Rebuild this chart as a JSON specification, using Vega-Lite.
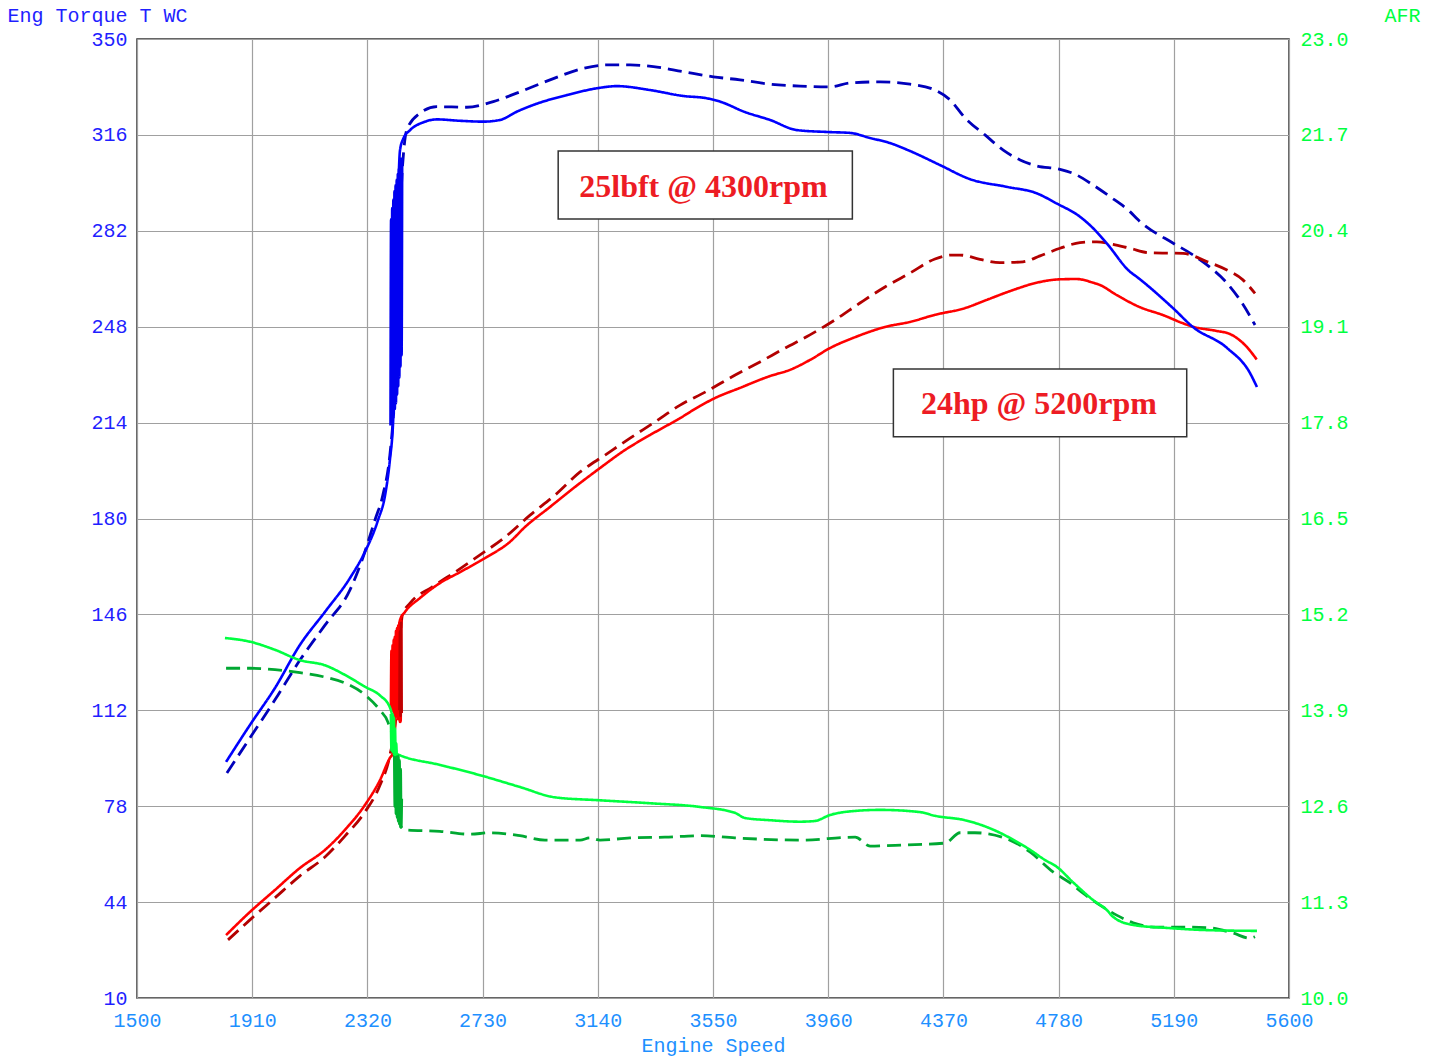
{
  "$schema": "https://vega.github.io/schema/vega-lite/v6.json",
  "width": 1152,
  "height": 959,
  "autosize": {"type": "none"},
  "padding": {"left": 137, "top": 39, "right": 146, "bottom": 59},
  "background": "white",
  "config": {
    "view": {"stroke": "#333333", "strokeWidth": 1.5},
    "axis": {
      "labelFont": "Liberation Mono",
      "labelFontSize": 20,
      "titleFont": "Liberation Mono",
      "titleFontSize": 20,
      "titleFontWeight": "normal",
      "domain": false,
      "ticks": false,
      "gridColor": "#a0a0a0",
      "gridWidth": 1.2,
      "gridOpacity": 1,
      "labelFlush": false,
      "labelOverlap": false
    }
  },
  "datasets": {
    "torque": [
      {"s": "tqd", "r": 1820, "v": 89.8}, {"s": "tqd", "r": 1902, "v": 102.2}, {"s": "tqd", "r": 1991, "v": 115.7}, {"s": "tqd", "r": 2080, "v": 129.8}, {"s": "tqd", "r": 2169, "v": 142.2}, {"s": "tqd", "r": 2258, "v": 154.7}, {"s": "tqd", "r": 2301, "v": 165.3}, {"s": "tqd", "r": 2347, "v": 179.5}, {"s": "tqd", "r": 2375, "v": 188.3}, {"s": "tqd", "r": 2400, "v": 202.5}, {"s": "tqd", "r": 2412, "v": 216}, {"s": "tqd", "r": 2445, "v": 305}, {"s": "tqd", "r": 2460, "v": 317.7}, {"s": "tqd", "r": 2507, "v": 323.7}, {"s": "tqd", "r": 2567, "v": 326.0}, {"s": "tqd", "r": 2674, "v": 325.8}, {"s": "tqd", "r": 2768, "v": 327.8}, {"s": "tqd", "r": 2851, "v": 330.8}, {"s": "tqd", "r": 2970, "v": 335.5}, {"s": "tqd", "r": 3089, "v": 339.6}, {"s": "tqd", "r": 3172, "v": 340.8}, {"s": "tqd", "r": 3255, "v": 340.8}, {"s": "tqd", "r": 3338, "v": 340.2}, {"s": "tqd", "r": 3444, "v": 338.4}, {"s": "tqd", "r": 3551, "v": 336.6}, {"s": "tqd", "r": 3646, "v": 335.5}, {"s": "tqd", "r": 3753, "v": 334.0}, {"s": "tqd", "r": 3860, "v": 333.3}, {"s": "tqd", "r": 3966, "v": 333.0}, {"s": "tqd", "r": 4038, "v": 334.4}, {"s": "tqd", "r": 4145, "v": 334.8}, {"s": "tqd", "r": 4251, "v": 334.0}, {"s": "tqd", "r": 4340, "v": 331.9}, {"s": "tqd", "r": 4394, "v": 328.4}, {"s": "tqd", "r": 4447, "v": 322.0}, {"s": "tqd", "r": 4518, "v": 316.0}, {"s": "tqd", "r": 4583, "v": 310.6}, {"s": "tqd", "r": 4643, "v": 307.1}, {"s": "tqd", "r": 4702, "v": 305.0}, {"s": "tqd", "r": 4785, "v": 303.8}, {"s": "tqd", "r": 4844, "v": 301.8}, {"s": "tqd", "r": 4903, "v": 298.2}, {"s": "tqd", "r": 4963, "v": 294.1}, {"s": "tqd", "r": 5034, "v": 288.8}, {"s": "tqd", "r": 5064, "v": 285.8}, {"s": "tqd", "r": 5188, "v": 277.6}, {"s": "tqd", "r": 5248, "v": 274.1}, {"s": "tqd", "r": 5308, "v": 269.9}, {"s": "tqd", "r": 5379, "v": 263.5}, {"s": "tqd", "r": 5433, "v": 256.4}, {"s": "tqd", "r": 5479, "v": 248.6},

      {"s": "hpd", "r": 1824, "v": 30.6}, {"s": "hpd", "r": 1902, "v": 37.7}, {"s": "hpd", "r": 1991, "v": 45.5}, {"s": "hpd", "r": 2080, "v": 53.3}, {"s": "hpd", "r": 2169, "v": 60.0}, {"s": "hpd", "r": 2240, "v": 67.4}, {"s": "hpd", "r": 2311, "v": 75.9}, {"s": "hpd", "r": 2365, "v": 85.5}, {"s": "hpd", "r": 2400, "v": 96}, {"s": "hpd", "r": 2420, "v": 108}, {"s": "hpd", "r": 2445, "v": 146}, {"s": "hpd", "r": 2472, "v": 150.0}, {"s": "hpd", "r": 2550, "v": 155.7}, {"s": "hpd", "r": 2632, "v": 161.0}, {"s": "hpd", "r": 2721, "v": 167.1}, {"s": "hpd", "r": 2810, "v": 173.4}, {"s": "hpd", "r": 2899, "v": 181.2}, {"s": "hpd", "r": 2988, "v": 188.3}, {"s": "hpd", "r": 3077, "v": 196.5}, {"s": "hpd", "r": 3166, "v": 202.5}, {"s": "hpd", "r": 3255, "v": 208.5}, {"s": "hpd", "r": 3343, "v": 214.2}, {"s": "hpd", "r": 3433, "v": 220.2}, {"s": "hpd", "r": 3522, "v": 224.8}, {"s": "hpd", "r": 3610, "v": 229.8}, {"s": "hpd", "r": 3717, "v": 235.5}, {"s": "hpd", "r": 3806, "v": 240.4}, {"s": "hpd", "r": 3895, "v": 245.1}, {"s": "hpd", "r": 3984, "v": 250.4}, {"s": "hpd", "r": 4073, "v": 256.4}, {"s": "hpd", "r": 4162, "v": 262.1}, {"s": "hpd", "r": 4251, "v": 267.0}, {"s": "hpd", "r": 4340, "v": 272.0}, {"s": "hpd", "r": 4400, "v": 273.4}, {"s": "hpd", "r": 4429, "v": 273.4}, {"s": "hpd", "r": 4500, "v": 271.9}, {"s": "hpd", "r": 4571, "v": 270.7}, {"s": "hpd", "r": 4653, "v": 271.0}, {"s": "hpd", "r": 4714, "v": 273.1}, {"s": "hpd", "r": 4785, "v": 275.8}, {"s": "hpd", "r": 4856, "v": 277.8}, {"s": "hpd", "r": 4916, "v": 278.1}, {"s": "hpd", "r": 4974, "v": 277.2}, {"s": "hpd", "r": 5034, "v": 275.8}, {"s": "hpd", "r": 5105, "v": 274.2}, {"s": "hpd", "r": 5223, "v": 274.0}, {"s": "hpd", "r": 5307, "v": 271.1}, {"s": "hpd", "r": 5379, "v": 268.1}, {"s": "hpd", "r": 5436, "v": 264.6}, {"s": "hpd", "r": 5479, "v": 259.8},

      {"s": "hp", "r": 1817, "v": 32.3}, {"s": "hp", "r": 1902, "v": 40.5}, {"s": "hp", "r": 1991, "v": 48.3}, {"s": "hp", "r": 2080, "v": 56.1}, {"s": "hp", "r": 2169, "v": 62.5}, {"s": "hp", "r": 2240, "v": 69.6}, {"s": "hp", "r": 2311, "v": 78.4}, {"s": "hp", "r": 2365, "v": 87.3}, {"s": "hp", "r": 2400, "v": 95.1}, {"s": "hp", "r": 2411, "v": 96.9}, {"s": "hp", "r": 2436, "v": 144.0}, {"s": "hp", "r": 2454, "v": 146.9}, {"s": "hp", "r": 2507, "v": 151.8}, {"s": "hp", "r": 2578, "v": 157.1}, {"s": "hp", "r": 2650, "v": 161.0}, {"s": "hp", "r": 2739, "v": 166.0}, {"s": "hp", "r": 2827, "v": 171.7}, {"s": "hp", "r": 2881, "v": 177.0}, {"s": "hp", "r": 2970, "v": 184.1}, {"s": "hp", "r": 3059, "v": 191.2}, {"s": "hp", "r": 3148, "v": 197.9}, {"s": "hp", "r": 3237, "v": 204.3}, {"s": "hp", "r": 3326, "v": 209.6}, {"s": "hp", "r": 3433, "v": 215.6}, {"s": "hp", "r": 3504, "v": 219.9}, {"s": "hp", "r": 3557, "v": 222.7}, {"s": "hp", "r": 3646, "v": 226.3}, {"s": "hp", "r": 3753, "v": 230.5}, {"s": "hp", "r": 3824, "v": 232.7}, {"s": "hp", "r": 3895, "v": 236.2}, {"s": "hp", "r": 3966, "v": 240.4}, {"s": "hp", "r": 4056, "v": 244.3}, {"s": "hp", "r": 4162, "v": 247.9}, {"s": "hp", "r": 4251, "v": 249.7}, {"s": "hp", "r": 4340, "v": 252.2}, {"s": "hp", "r": 4447, "v": 254.6}, {"s": "hp", "r": 4524, "v": 257.5}, {"s": "hp", "r": 4618, "v": 261.0}, {"s": "hp", "r": 4702, "v": 263.6}, {"s": "hp", "r": 4785, "v": 264.8}, {"s": "hp", "r": 4844, "v": 264.9}, {"s": "hp", "r": 4903, "v": 263.6}, {"s": "hp", "r": 4927, "v": 262.8}, {"s": "hp", "r": 4987, "v": 259.2}, {"s": "hp", "r": 5070, "v": 254.9}, {"s": "hp", "r": 5152, "v": 252.1}, {"s": "hp", "r": 5223, "v": 249.2}, {"s": "hp", "r": 5258, "v": 248.0}, {"s": "hp", "r": 5342, "v": 246.5}, {"s": "hp", "r": 5390, "v": 245.4}, {"s": "hp", "r": 5449, "v": 240.9}, {"s": "hp", "r": 5485, "v": 236.4},

      {"s": "tq", "r": 1817, "v": 93.7}, {"s": "tq", "r": 1902, "v": 106.8}, {"s": "tq", "r": 1991, "v": 119.9}, {"s": "tq", "r": 2080, "v": 135.2}, {"s": "tq", "r": 2169, "v": 146.9}, {"s": "tq", "r": 2258, "v": 158.9}, {"s": "tq", "r": 2311, "v": 168.1}, {"s": "tq", "r": 2358, "v": 179.5}, {"s": "tq", "r": 2383, "v": 188.3}, {"s": "tq", "r": 2400, "v": 200.7}, {"s": "tq", "r": 2411, "v": 213.2}, {"s": "tq", "r": 2436, "v": 310.5}, {"s": "tq", "r": 2447, "v": 314.5}, {"s": "tq", "r": 2472, "v": 317.7}, {"s": "tq", "r": 2520, "v": 320.5}, {"s": "tq", "r": 2567, "v": 321.5}, {"s": "tq", "r": 2650, "v": 321.0}, {"s": "tq", "r": 2732, "v": 320.7}, {"s": "tq", "r": 2792, "v": 321.3}, {"s": "tq", "r": 2851, "v": 324.2}, {"s": "tq", "r": 2910, "v": 326.6}, {"s": "tq", "r": 3029, "v": 330.1}, {"s": "tq", "r": 3148, "v": 332.7}, {"s": "tq", "r": 3207, "v": 333.3}, {"s": "tq", "r": 3326, "v": 331.9}, {"s": "tq", "r": 3444, "v": 329.8}, {"s": "tq", "r": 3527, "v": 329.0}, {"s": "tq", "r": 3575, "v": 327.8}, {"s": "tq", "r": 3664, "v": 324.1}, {"s": "tq", "r": 3753, "v": 321.3}, {"s": "tq", "r": 3849, "v": 317.7}, {"s": "tq", "r": 3966, "v": 317.0}, {"s": "tq", "r": 4038, "v": 316.7}, {"s": "tq", "r": 4109, "v": 314.9}, {"s": "tq", "r": 4180, "v": 313.1}, {"s": "tq", "r": 4251, "v": 310.3}, {"s": "tq", "r": 4358, "v": 305.3}, {"s": "tq", "r": 4465, "v": 300.3}, {"s": "tq", "r": 4595, "v": 297.6}, {"s": "tq", "r": 4702, "v": 295.3}, {"s": "tq", "r": 4773, "v": 291.7}, {"s": "tq", "r": 4856, "v": 287.0}, {"s": "tq", "r": 4903, "v": 282.9}, {"s": "tq", "r": 4951, "v": 277.6}, {"s": "tq", "r": 5034, "v": 267.5}, {"s": "tq", "r": 5058, "v": 265.7}, {"s": "tq", "r": 5187, "v": 254.6}, {"s": "tq", "r": 5258, "v": 247.9}, {"s": "tq", "r": 5379, "v": 240.5}, {"s": "tq", "r": 5461, "v": 231.6}, {"s": "tq", "r": 5486, "v": 226.6},

      {"s": "tqs", "r": 2404, "v": 213}, {"s": "tqs", "r": 2406, "v": 286}, {"s": "tqs", "r": 2408, "v": 215}, {"s": "tqs", "r": 2410, "v": 290}, {"s": "tqs", "r": 2412, "v": 217}, {"s": "tqs", "r": 2414, "v": 293}, {"s": "tqs", "r": 2416, "v": 219}, {"s": "tqs", "r": 2418, "v": 296}, {"s": "tqs", "r": 2420, "v": 221}, {"s": "tqs", "r": 2422, "v": 298}, {"s": "tqs", "r": 2424, "v": 224}, {"s": "tqs", "r": 2426, "v": 300}, {"s": "tqs", "r": 2428, "v": 227}, {"s": "tqs", "r": 2430, "v": 302}, {"s": "tqs", "r": 2432, "v": 230}, {"s": "tqs", "r": 2434, "v": 304}, {"s": "tqs", "r": 2436, "v": 234}, {"s": "tqs", "r": 2438, "v": 306}, {"s": "tqs", "r": 2440, "v": 238}, {"s": "tqs", "r": 2442, "v": 308},

      {"s": "hps", "r": 2405, "v": 113}, {"s": "hps", "r": 2407, "v": 133}, {"s": "hps", "r": 2409, "v": 112}, {"s": "hps", "r": 2411, "v": 135}, {"s": "hps", "r": 2413, "v": 112}, {"s": "hps", "r": 2415, "v": 137}, {"s": "hps", "r": 2417, "v": 111}, {"s": "hps", "r": 2419, "v": 138}, {"s": "hps", "r": 2421, "v": 110}, {"s": "hps", "r": 2423, "v": 140}, {"s": "hps", "r": 2425, "v": 110}, {"s": "hps", "r": 2427, "v": 141}, {"s": "hps", "r": 2429, "v": 109}, {"s": "hps", "r": 2431, "v": 142}, {"s": "hps", "r": 2433, "v": 109}, {"s": "hps", "r": 2435, "v": 143}, {"s": "hps", "r": 2437, "v": 108}, {"s": "hps", "r": 2439, "v": 144},

      {"s": "hpds", "r": 2434, "v": 112}, {"s": "hpds", "r": 2436, "v": 140}, {"s": "hpds", "r": 2438, "v": 110}, {"s": "hpds", "r": 2440, "v": 143}, {"s": "hpds", "r": 2442, "v": 111}
    ],
    "afr": [
      {"s": "afrd", "r": 1817, "a": 14.47}, {"s": "afrd", "r": 1902, "a": 14.47}, {"s": "afrd", "r": 1991, "a": 14.45}, {"s": "afrd", "r": 2080, "a": 14.41}, {"s": "afrd", "r": 2169, "a": 14.35}, {"s": "afrd", "r": 2240, "a": 14.27}, {"s": "afrd", "r": 2311, "a": 14.11}, {"s": "afrd", "r": 2365, "a": 13.9}, {"s": "afrd", "r": 2393, "a": 13.74}, {"s": "afrd", "r": 2418, "a": 13.36}, {"s": "afrd", "r": 2440, "a": 12.32}, {"s": "afrd", "r": 2454, "a": 12.28}, {"s": "afrd", "r": 2578, "a": 12.26}, {"s": "afrd", "r": 2685, "a": 12.22}, {"s": "afrd", "r": 2756, "a": 12.24}, {"s": "afrd", "r": 2863, "a": 12.2}, {"s": "afrd", "r": 2952, "a": 12.14}, {"s": "afrd", "r": 3077, "a": 12.14}, {"s": "afrd", "r": 3112, "a": 12.17}, {"s": "afrd", "r": 3148, "a": 12.14}, {"s": "afrd", "r": 3255, "a": 12.17}, {"s": "afrd", "r": 3379, "a": 12.18}, {"s": "afrd", "r": 3504, "a": 12.2}, {"s": "afrd", "r": 3628, "a": 12.17}, {"s": "afrd", "r": 3860, "a": 12.14}, {"s": "afrd", "r": 4056, "a": 12.18}, {"s": "afrd", "r": 4109, "a": 12.06}, {"s": "afrd", "r": 4198, "a": 12.07}, {"s": "afrd", "r": 4376, "a": 12.1}, {"s": "afrd", "r": 4429, "a": 12.24}, {"s": "afrd", "r": 4482, "a": 12.24}, {"s": "afrd", "r": 4607, "a": 12.14}, {"s": "afrd", "r": 4678, "a": 11.98}, {"s": "afrd", "r": 4760, "a": 11.71}, {"s": "afrd", "r": 4821, "a": 11.56}, {"s": "afrd", "r": 4867, "a": 11.42}, {"s": "afrd", "r": 4927, "a": 11.26}, {"s": "afrd", "r": 4988, "a": 11.12}, {"s": "afrd", "r": 5045, "a": 11.02}, {"s": "afrd", "r": 5130, "a": 10.96}, {"s": "afrd", "r": 5248, "a": 10.96}, {"s": "afrd", "r": 5319, "a": 10.95}, {"s": "afrd", "r": 5401, "a": 10.88}, {"s": "afrd", "r": 5461, "a": 10.81}, {"s": "afrd", "r": 5479, "a": 10.83},

      {"s": "afr", "r": 1813, "a": 14.88}, {"s": "afr", "r": 1902, "a": 14.83}, {"s": "afr", "r": 1991, "a": 14.72}, {"s": "afr", "r": 2080, "a": 14.58}, {"s": "afr", "r": 2169, "a": 14.51}, {"s": "afr", "r": 2240, "a": 14.38}, {"s": "afr", "r": 2311, "a": 14.22}, {"s": "afr", "r": 2365, "a": 14.1}, {"s": "afr", "r": 2400, "a": 13.94}, {"s": "afr", "r": 2411, "a": 13.73}, {"s": "afr", "r": 2418, "a": 13.32}, {"s": "afr", "r": 2436, "a": 13.29}, {"s": "afr", "r": 2578, "a": 13.16}, {"s": "afr", "r": 2721, "a": 13.02}, {"s": "afr", "r": 2863, "a": 12.86}, {"s": "afr", "r": 2988, "a": 12.72}, {"s": "afr", "r": 3148, "a": 12.68}, {"s": "afr", "r": 3326, "a": 12.64}, {"s": "afr", "r": 3504, "a": 12.59}, {"s": "afr", "r": 3628, "a": 12.51}, {"s": "afr", "r": 3664, "a": 12.44}, {"s": "afr", "r": 3753, "a": 12.41}, {"s": "afr", "r": 3860, "a": 12.39}, {"s": "afr", "r": 3913, "a": 12.4}, {"s": "afr", "r": 3966, "a": 12.48}, {"s": "afr", "r": 4038, "a": 12.53}, {"s": "afr", "r": 4145, "a": 12.55}, {"s": "afr", "r": 4287, "a": 12.52}, {"s": "afr", "r": 4340, "a": 12.47}, {"s": "afr", "r": 4447, "a": 12.41}, {"s": "afr", "r": 4536, "a": 12.3}, {"s": "afr", "r": 4607, "a": 12.17}, {"s": "afr", "r": 4678, "a": 12.01}, {"s": "afr", "r": 4732, "a": 11.87}, {"s": "afr", "r": 4773, "a": 11.78}, {"s": "afr", "r": 4831, "a": 11.57}, {"s": "afr", "r": 4902, "a": 11.33}, {"s": "afr", "r": 4952, "a": 11.19}, {"s": "afr", "r": 4974, "a": 11.1}, {"s": "afr", "r": 5045, "a": 10.99}, {"s": "afr", "r": 5166, "a": 10.95}, {"s": "afr", "r": 5308, "a": 10.92}, {"s": "afr", "r": 5486, "a": 10.91},

      {"s": "afrds", "r": 2417, "a": 13.32}, {"s": "afrds", "r": 2419, "a": 12.6}, {"s": "afrds", "r": 2421, "a": 13.31}, {"s": "afrds", "r": 2423, "a": 12.5}, {"s": "afrds", "r": 2425, "a": 13.3}, {"s": "afrds", "r": 2427, "a": 12.45}, {"s": "afrds", "r": 2429, "a": 13.27}, {"s": "afrds", "r": 2431, "a": 12.4}, {"s": "afrds", "r": 2433, "a": 13.22}, {"s": "afrds", "r": 2435, "a": 12.36}, {"s": "afrds", "r": 2437, "a": 13.1}, {"s": "afrds", "r": 2439, "a": 12.32}, {"s": "afrds", "r": 2441, "a": 12.7},

      {"s": "afrs", "r": 2405, "a": 13.85}, {"s": "afrs", "r": 2407, "a": 13.36}, {"s": "afrs", "r": 2409, "a": 13.84}, {"s": "afrs", "r": 2411, "a": 13.34}, {"s": "afrs", "r": 2413, "a": 13.8}, {"s": "afrs", "r": 2415, "a": 13.31}, {"s": "afrs", "r": 2417, "a": 13.65}, {"s": "afrs", "r": 2419, "a": 13.3}, {"s": "afrs", "r": 2421, "a": 13.45}, {"s": "afrs", "r": 2423, "a": 13.29}
    ],
    "notes": [
      {"t": "25lbft @ 4300rpm", "x1": 2999, "x2": 4046, "y1": 310.3, "y2": 286.2, "tx": 3516, "ty": 294.1},
      {"t": "24hp @ 5200rpm", "x1": 4192, "x2": 5236, "y1": 233.0, "y2": 209.0, "tx": 4710, "ty": 217.0}
    ]
  },
  "layer": [
    {
      "data": {"name": "torque"},
      "mark": {"type": "line", "interpolate": "monotone", "strokeCap": "butt", "strokeJoin": "round"},
      "encoding": {
        "x": {"field": "r", "type": "quantitative", "scale": {"domain": [1500, 5600], "nice": false, "zero": false},
          "axis": {"values": [1500, 1910, 2320, 2730, 3140, 3550, 3960, 4370, 4780, 5190, 5600], "format": "d", "labelColor": "#1E90FF", "labelPadding": 12, "title": "Engine Speed", "titleColor": "#1E90FF", "titleX": 576, "titleY": 47, "titleBaseline": "middle", "grid": true}},
        "y": {
          "field": "v", "type": "quantitative",
          "scale": {"domain": [10, 350], "nice": false, "zero": false},
          "axis": {
            "values": [10, 44, 78, 112, 146, 180, 214, 248, 282, 316, 350],
            "format": "d",
            "labelColor": "#1F1FFF",
            "labelPadding": 10,
            "title": "Eng Torque T WC",
            "titleColor": "#1F1FFF",
            "titleAngle": 0,
            "titleAlign": "left",
            "titleBaseline": "middle",
            "titleX": -130,
            "titleY": -24,
            "grid": true
          }
        },
        "color": {
          "field": "s", "type": "nominal", "legend": null,
          "scale": {
            "domain": ["tqd", "hpd", "hp", "tq", "tqs", "hps", "hpds"],
            "range": ["#0000BB", "#B30000", "#FF0000", "#0000FF", "#0000F0", "#FF0000", "#C00000"]
          }
        },
        "strokeDash": {
          "field": "s", "type": "nominal", "legend": null,
          "scale": {
            "domain": ["tqd", "hpd", "hp", "tq", "tqs", "hps", "hpds"],
            "range": [[14, 7], [14, 7], [1, 0], [1, 0], [1, 0], [1, 0], [1, 0]]
          }
        },
        "strokeWidth": {
          "field": "s", "type": "nominal", "legend": null,
          "scale": {
            "type": "ordinal",
            "domain": ["tqd", "hpd", "hp", "tq", "tqs", "hps", "hpds"],
            "range": [2.8, 2.8, 2.6, 2.6, 3.6, 3.4, 2.6]
          }
        }
      }
    },
    {
      "data": {"name": "notes"},
      "mark": {"type": "rect", "fill": "white", "stroke": "#333333", "strokeWidth": 1.5},
      "encoding": {
        "x": {"field": "x1", "type": "quantitative", "scale": {"domain": [1500, 5600], "nice": false, "zero": false},
          "axis": {"values": [1500, 1910, 2320, 2730, 3140, 3550, 3960, 4370, 4780, 5190, 5600], "format": "d", "labelColor": "#1E90FF", "labelPadding": 12, "title": "Engine Speed", "titleColor": "#1E90FF", "titleX": 576, "titleY": 47, "titleBaseline": "middle", "grid": true}},
        "x2": {"field": "x2"},
        "y": {"field": "y1", "type": "quantitative", "scale": {"domain": [10, 350], "nice": false, "zero": false}, "axis": null},
        "y2": {"field": "y2"}
      }
    },
    {
      "data": {"name": "notes"},
      "mark": {"type": "text", "font": "Liberation Serif", "fontWeight": "bold", "fontSize": 32, "color": "#ED1C24", "align": "center", "baseline": "alphabetic"},
      "encoding": {
        "x": {"field": "tx", "type": "quantitative", "scale": {"domain": [1500, 5600], "nice": false, "zero": false},
          "axis": {"values": [1500, 1910, 2320, 2730, 3140, 3550, 3960, 4370, 4780, 5190, 5600], "format": "d", "labelColor": "#1E90FF", "labelPadding": 12, "title": "Engine Speed", "titleColor": "#1E90FF", "titleX": 576, "titleY": 47, "titleBaseline": "middle", "grid": true}},
        "y": {"field": "ty", "type": "quantitative", "scale": {"domain": [10, 350], "nice": false, "zero": false}, "axis": null},
        "text": {"field": "t"}
      }
    },
    {
      "data": {"name": "afr"},
      "mark": {"type": "line", "interpolate": "monotone", "strokeCap": "butt", "strokeJoin": "round"},
      "encoding": {
        "x": {"field": "r", "type": "quantitative", "scale": {"domain": [1500, 5600], "nice": false, "zero": false},
          "axis": {"values": [1500, 1910, 2320, 2730, 3140, 3550, 3960, 4370, 4780, 5190, 5600], "format": "d", "labelColor": "#1E90FF", "labelPadding": 12, "title": "Engine Speed", "titleColor": "#1E90FF", "titleX": 576, "titleY": 47, "titleBaseline": "middle", "grid": true}},
        "y": {
          "field": "a", "type": "quantitative",
          "scale": {"domain": [10, 23], "nice": false, "zero": false},
          "axis": {
            "orient": "right",
            "values": [10, 11.3, 12.6, 13.9, 15.2, 16.5, 17.8, 19.1, 20.4, 21.7, 23],
            "format": ".1f",
            "labelColor": "#00FF40",
            "labelPadding": 11,
            "title": "AFR",
            "titleColor": "#00FF40",
            "titleAngle": 0,
            "titleAlign": "right",
            "titleBaseline": "middle",
            "titleX": 131,
            "titleY": -24,
            "grid": false
          }
        },
        "color": {
          "field": "s", "type": "nominal", "legend": null,
          "scale": {
            "domain": ["afrd", "afr", "afrds", "afrs"],
            "range": ["#00A832", "#00FF40", "#00B030", "#00FF40"]
          }
        },
        "strokeDash": {
          "field": "s", "type": "nominal", "legend": null,
          "scale": {
            "domain": ["afrd", "afr", "afrds", "afrs"],
            "range": [[14, 7], [1, 0], [1, 0], [1, 0]]
          }
        },
        "strokeWidth": {
          "field": "s", "type": "nominal", "legend": null,
          "scale": {
            "type": "ordinal",
            "domain": ["afrd", "afr", "afrds", "afrs"],
            "range": [2.8, 2.6, 3.4, 3.4]
          }
        }
      }
    }
  ],
  "resolve": {"scale": {"y": "independent", "color": "independent", "strokeDash": "independent", "strokeWidth": "independent"}}
}
